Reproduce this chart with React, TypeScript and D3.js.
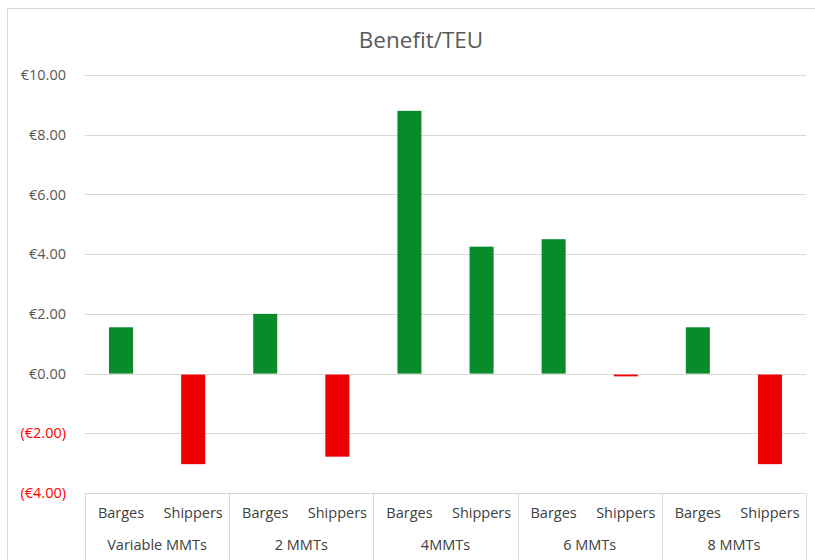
import * as d3 from "d3";

const groups = ["Variable MMTs", "2 MMTs", "4MMTs", "6 MMTs", "8 MMTs"];
const series = ["Barges", "Shippers"];
const barges = [1.55, 2.0, 8.8, 4.5, 1.55];
const shippers = [-3.0, -2.75, 4.25, -0.06, -3.0];
const yTicks = [-4, -2, 0, 2, 4, 6, 8, 10];

const font = "'Open Sans', 'Noto Sans', sans-serif";
const green = "#078b2b";
const red = "#ee0000";

const fmt = (v: number) =>
  v < 0 ? `(€${Math.abs(v).toFixed(2)})` : `€${v.toFixed(2)}`;

export default function App() {
  const width = 815;
  const height = 560;
  const left = 85;
  const right = 806;

  const x0 = d3.scaleBand().domain(groups).range([left, right]);
  const x1 = d3
    .scaleBand()
    .domain(series)
    .range([0, x0.bandwidth()])
    .paddingInner(0.667)
    .paddingOuter(0.333);
  const y = d3.scaleLinear().domain([-4, 10]).range([493, 75]);

  const rows = groups.map((g, i) => ({
    group: g,
    values: [
      { key: "Barges", value: barges[i] },
      { key: "Shippers", value: shippers[i] },
    ],
  }));

  return (
    <svg
      width={width}
      height={height}
      style={{ position: "absolute", left: 0, top: 0 }}
      fontFamily={font}
    >
      <rect x={0} y={0} width={width} height={height} fill="#fff" />
      <rect
        x={7.5}
        y={8.5}
        width={900}
        height={700}
        fill="none"
        stroke="#d9d9d9"
      />
      <text
        x={421}
        y={48}
        textAnchor="middle"
        fontSize={22.5}
        fill="#595959"
      >
        Benefit/TEU
      </text>

      {/* gridlines + y labels */}
      {yTicks.map((t) => (
        <g key={t}>
          <line
            x1={left}
            x2={right}
            y1={Math.round(y(t)) + 0.5}
            y2={Math.round(y(t)) + 0.5}
            stroke="#d9d9d9"
          />
          <text
            x={66}
            y={y(t)}
            dy="0.35em"
            textAnchor="end"
            fontSize={14.5}
            fill={t < 0 ? "#ff0000" : "#595959"}
          >
            {fmt(t)}
          </text>
        </g>
      ))}

      {/* bars */}
      {rows.map((r) => (
        <g key={r.group} transform={`translate(${x0(r.group)},0)`}>
          {r.values.map((d) => (
            <rect
              key={d.key}
              x={x1(d.key)}
              y={d.value < 0 ? y(0) + 1 : y(d.value)}
              width={x1.bandwidth()}
              height={Math.abs(y(d.value) - y(0))}
              fill={d.value < 0 ? red : green}
            />
          ))}
        </g>
      ))}

      {/* category box */}
      {groups.map((g) => (
        <line
          key={g}
          x1={Math.round(x0(g)!) + 0.5}
          x2={Math.round(x0(g)!) + 0.5}
          y1={493}
          y2={height}
          stroke="#d9d9d9"
        />
      ))}
      <line
        x1={right + 0.5}
        x2={right + 0.5}
        y1={493}
        y2={height}
        stroke="#d9d9d9"
      />
      {groups.map((g) => (
        <g key={g + "-lbl"}>
          {series.map((s) => (
            <text
              key={s}
              x={x0(g)! + x1(s)! + x1.bandwidth() / 2}
              y={518}
              textAnchor="middle"
              fontSize={14.5}
              fill="#404040"
            >
              {s}
            </text>
          ))}
          <text
            x={x0(g)! + x0.bandwidth() / 2}
            y={550}
            textAnchor="middle"
            fontSize={14.5}
            fill="#404040"
          >
            {g}
          </text>
        </g>
      ))}
    </svg>
  );
}
